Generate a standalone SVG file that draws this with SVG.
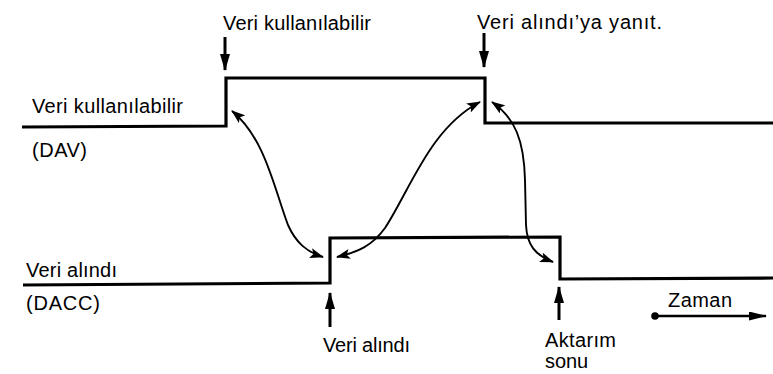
<svg xmlns="http://www.w3.org/2000/svg" width="773" height="374" viewBox="0 0 773 374">
  <style>
    .sig { fill: none; stroke: #000; stroke-width: 3.2; stroke-linejoin: miter; }
    .link { fill: none; stroke: #000; stroke-width: 1.9; marker-start: url(#head); marker-end: url(#head); }
    .mark { fill: none; stroke: #000; stroke-width: 3; marker-end: url(#bighead); }
    text { font-family: "Liberation Sans", Arial, sans-serif; font-size: 20px; fill: #000; }
  </style>
  <defs>
    <marker id="head" viewBox="0 0 14 10" refX="13" refY="5" markerWidth="14" markerHeight="10" markerUnits="userSpaceOnUse" orient="auto-start-reverse">
      <path d="M0,0 L14,5 L0,10 L3,5 Z" fill="#000"/>
    </marker>
    <marker id="bighead" viewBox="0 0 17 10" refX="16" refY="5" markerWidth="17" markerHeight="10" markerUnits="userSpaceOnUse" orient="auto">
      <path d="M0,0 L17,5 L0,10 Z" fill="#000"/>
    </marker>
    <marker id="timehead" viewBox="0 0 18 9" refX="17" refY="4.5" markerWidth="18" markerHeight="9" markerUnits="userSpaceOnUse" orient="auto">
      <path d="M0,0 L18,4.5 L0,9 Z" fill="#000"/>
    </marker>
  </defs>

  <!-- DAV signal -->
  <g id="dav">
    <polyline class="sig" points="22,127 226,126 226,78 485,78 485,123 773,123"/>
    <text x="32" y="113" textLength="151" lengthAdjust="spacing">Veri kullanılabilir</text>
    <text x="32" y="157" textLength="55" lengthAdjust="spacing">(DAV)</text>
  </g>

  <!-- DACC signal -->
  <g id="dacc">
    <polyline class="sig" points="23,285 330,283 330,238 560,237 560,279 773,278"/>
    <text x="26" y="277" textLength="91" lengthAdjust="spacing">Veri alındı</text>
    <text x="26" y="310" textLength="74" lengthAdjust="spacing">(DACC)</text>
  </g>

  <!-- event labels with their markers -->
  <g id="ev-dav-up">
    <text x="223" y="30" textLength="148" lengthAdjust="spacing">Veri kullanılabilir</text>
    <line class="mark" x1="225" y1="37" x2="225" y2="70"/>
  </g>
  <g id="ev-dav-down">
    <text x="477" y="29" textLength="185" lengthAdjust="spacing">Veri alındı’ya yanıt.</text>
    <line class="mark" x1="484" y1="33" x2="484" y2="67"/>
  </g>
  <g id="ev-dacc-up">
    <line class="mark" x1="330" y1="327" x2="330" y2="293"/>
    <text x="323" y="352" textLength="87" lengthAdjust="spacing">Veri alındı</text>
  </g>
  <g id="ev-dacc-down">
    <line class="mark" x1="559" y1="320" x2="559" y2="287"/>
    <text x="545" y="347" textLength="71" lengthAdjust="spacing">Aktarım</text>
    <text x="545" y="368" textLength="43" lengthAdjust="spacing">sonu</text>
  </g>

  <!-- time axis -->
  <g id="time">
    <text x="668" y="307" textLength="64" lengthAdjust="spacing">Zaman</text>
    <circle cx="655" cy="316" r="3.8" fill="#000"/>
    <line x1="655" y1="316" x2="766" y2="316" stroke="#000" stroke-width="2.6" marker-end="url(#timehead)"/>
  </g>

  <!-- handshake connectors -->
  <g id="connectors">
    <path class="link" d="M232,111 C265,138 274,188 288,225 C296,243 307,252 323,257"/>
    <path class="link" d="M337,257 C358,252 372,246 385,228 C410,190 430,128 480,102"/>
    <path class="link" d="M492,102 C515,118 524,140 525,180 L526,225 C527,245 535,255 553,262"/>
  </g>
</svg>
